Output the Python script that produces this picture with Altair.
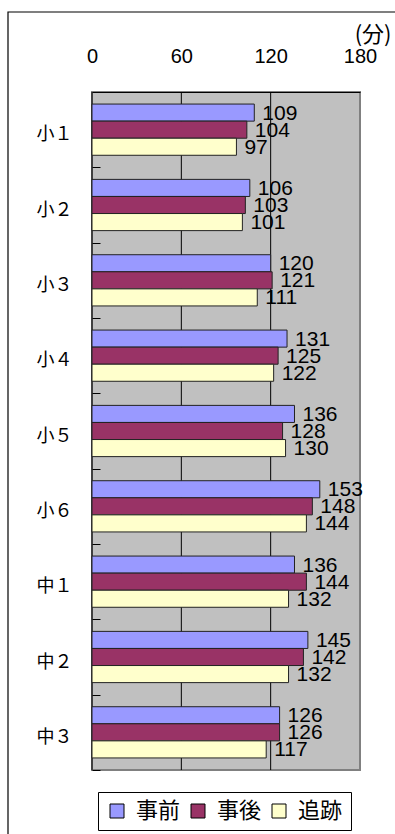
import altair as alt
import pandas as pd

# 学年別の所要時間（分）
categories = ["小１", "小２", "小３", "小４", "小５", "小６", "中１", "中２", "中３"]
series = ["事前", "事後", "追跡"]
before = [109, 106, 120, 131, 136, 153, 136, 145, 126]
after = [104, 103, 121, 125, 128, 148, 144, 142, 126]
follow = [97, 101, 111, 122, 130, 144, 132, 132, 117]
colors = ["#9999FF", "#993366", "#FFFFCC"]
x_ticks = [0, 60, 120, 180]
grid_lines = [0, 60, 120]

rows = []
for name, vals in zip(series, [before, after, follow]):
    for cat, v in zip(categories, vals):
        rows.append({"学年": cat, "区分": name, "分": v})
df = pd.DataFrame(rows)
grid_df = pd.DataFrame({"分": grid_lines})
frame_df = pd.DataFrame({"k": [0]})

W, H = 268, 678
step = H / len(categories)

x_enc = alt.X(
    "分:Q",
    scale=alt.Scale(domain=[0, 180], nice=False, zero=True),
    axis=alt.Axis(
        orient="top", values=x_ticks, grid=False, ticks=False, tickSize=0,
        domain=True, domainColor="black", domainWidth=1,
        labelFont="Liberation Sans", labelFontSize=20, labelColor="black",
        labelPadding=26, labelFlush=False,
        title="(分)", titleFont="Noto Sans CJK JP", titleFontSize=22,
        titleFontWeight="normal", titleColor="black", titleAlign="right",
        titleX=299, titleY=-58, titleBaseline="middle", titleAngle=0,
    ),
)

y_enc = alt.Y(
    "学年:N",
    sort=categories,
    scale=alt.Scale(domain=categories, paddingInner=0.32, paddingOuter=0.16),
    axis=alt.Axis(
        title=None, orient="left", domain=False, grid=False,
        offset=-8, tickSize=8, tickColor="black", tickWidth=1,
        tickOffset=step / 2, labelOffset=-step / 2 + 5,
        labelPadding=20, labelFont="Noto Sans CJK JP", labelFontSize=18,
        labelColor="black",
    ),
)

y_off = alt.YOffset("区分:N", sort=series,
                    scale=alt.Scale(domain=series, paddingInner=0, paddingOuter=0))

color_enc = alt.Color(
    "区分:N",
    sort=series,
    scale=alt.Scale(domain=series, range=colors),
    legend=alt.Legend(
        orient="none", direction="horizontal", legendX=6, legendY=700,
        title=None, fillColor="white", strokeColor="black",
        padding=8, symbolType="square", symbolSize=196,
        symbolStrokeColor="black", symbolStrokeWidth=1,
        labelFont="Noto Sans CJK JP", labelFontSize=22, labelColor="black",
        labelOffset=8, columnPadding=6,
    ),
)

# outer frame around the whole figure
frame = alt.Chart(frame_df).mark_rect(
    fill=None, stroke="black", strokeWidth=1.2
).encode(
    x=alt.value(-84), x2=alt.value(320),
    y=alt.value(-80), y2=alt.value(760),
)

grid = alt.Chart(grid_df).mark_rule(color="black", strokeWidth=1).encode(
    x=alt.X("分:Q", scale=alt.Scale(domain=[0, 180], nice=False))
)

bars = alt.Chart(df).mark_bar(stroke="#222222", strokeWidth=1).encode(
    x=x_enc, y=y_enc, yOffset=y_off, color=color_enc
)

labels = alt.Chart(df).mark_text(
    align="left", baseline="middle", dx=8, dy=1,
    font="Liberation Sans", fontSize=21, color="black",
).encode(
    x=alt.X("分:Q"), y=alt.Y("学年:N", sort=categories),
    yOffset=alt.YOffset("区分:N", sort=series), text="分:Q",
)

chart = alt.layer(frame, grid, bars, labels).properties(
    width=W, height=H,
    padding={"left": 92, "top": 92, "right": 35, "bottom": 64},
    autosize=alt.AutoSizeParams(type="none"),
    background="white",
).configure_view(
    fill="#C0C0C0", stroke="#808080", strokeWidth=2
).configure_legend(strokeWidth=1)

chart.save("out.html", embed_options={"renderer": "svg", "actions": False})
